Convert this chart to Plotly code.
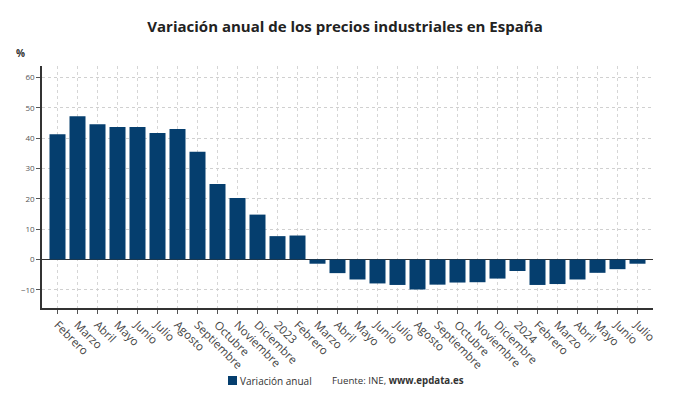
import plotly.graph_objects as go

categories = ["Febrero", "Marzo", "Abril", "Mayo", "Junio", "Julio", "Agosto",
              "Septiembre", "Octubre", "Noviembre", "Diciembre", "2023",
              "Febrero", "Marzo", "Abril", "Mayo", "Junio", "Julio", "Agosto",
              "Septiembre", "Octubre", "Noviembre", "Diciembre", "2024",
              "Febrero", "Marzo", "Abril", "Mayo", "Junio", "Julio"]
values = [41.3, 47.2, 44.6, 43.7, 43.7, 41.7, 43.0, 35.5, 24.9, 20.3, 14.8, 7.7,
          7.9, -1.4, -4.5, -6.6, -7.9, -8.4, -9.9, -8.3, -7.6, -7.5, -6.3, -3.8,
          -8.4, -8.1, -6.6, -4.4, -3.2, -1.4]
positions = list(range(len(categories)))
y_ticks = [-10, 0, 10, 20, 30, 40, 50, 60]
series_name = "Variación anual"

FONT = "Open Sans"
BAR = "#053e6e"
W, H = 690, 405
L, R, T, B = 42, 37, 66, 97
PW, PH = W - L - R, H - T - B


def px(x):
    return (x - L) / PW


def py(y):
    return (H - B - y) / PH


fig = go.Figure()
fig.add_trace(go.Bar(
    x=positions, y=values, name=series_name,
    marker=dict(color=BAR, line=dict(width=0)), width=0.8,
    showlegend=False,
))

fig.update_layout(
    width=W, height=H,
    margin=dict(l=L, r=R, t=T, b=B, autoexpand=False),
    paper_bgcolor="white", plot_bgcolor="white",
    font=dict(family=FONT, color="#333"),
    title=dict(text="<b>Variación anual de los precios industriales en España</b>",
               x=0.5, xanchor="center", y=1 - 27 / H, yanchor="middle",
               font=dict(family=FONT, size=15, color="#222")),
    showlegend=False,
)

fig.update_xaxes(
    range=[-0.775, 29.775], automargin=False,
    tickmode="array", tickvals=positions, ticktext=categories,
    tickangle=45, tickfont=dict(family=FONT, size=11.5, color="#444"),
    showline=True, linecolor="#333", linewidth=1.5,
    ticks="outside", ticklen=4, tickcolor="#555",
    showgrid=True, gridcolor="#d6d6d6", griddash="dot", gridwidth=1,
    zeroline=False,
)
fig.update_yaxes(
    range=[-16, 63.8], automargin=False,
    tickmode="array", tickvals=y_ticks,
    tickfont=dict(family=FONT, size=8, color="#555"),
    showline=True, linecolor="#333", linewidth=1.5,
    ticks="outside", ticklen=4, tickcolor="#555",
    showgrid=True, gridcolor="#d0d0d0", griddash="dot", gridwidth=1,
    zeroline=True, zerolinecolor="#333", zerolinewidth=1,
)

fig.add_annotation(text="<b>%</b>", xref="paper", yref="paper",
                   x=px(20), y=py(53), xanchor="center", yanchor="middle",
                   showarrow=False, font=dict(family=FONT, size=10, color="#333"))

# legend swatch + label
fig.add_shape(type="rect", xref="paper", yref="paper",
              x0=px(228), x1=px(237), y0=py(385), y1=py(376),
              fillcolor=BAR, line=dict(width=0))
fig.add_annotation(text=series_name, xref="paper", yref="paper",
                   x=px(238), y=py(380.5), xanchor="left", yanchor="middle",
                   showarrow=False, font=dict(family=FONT, size=10, color="#333"))
fig.add_annotation(text="Fuente: INE, <b>www.epdata.es</b>", xref="paper", yref="paper",
                   x=px(330), y=py(380.5), xanchor="left", yanchor="middle",
                   showarrow=False, font=dict(family=FONT, size=9.7, color="#333"))

fig.write_html("out.html", config={"displayModeBar": False},
               post_script="document.body.style.margin='0';")
